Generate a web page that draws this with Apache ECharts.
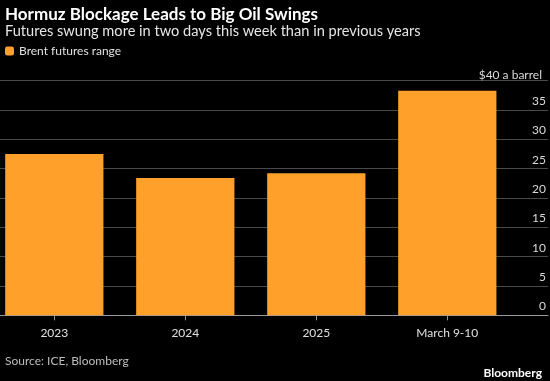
<!DOCTYPE html>
<html><head><meta charset="utf-8">
<script src="https://cdn.jsdelivr.net/npm/echarts@6/dist/echarts.min.js"></script>
<style>html,body{margin:0;padding:0;background:#000}#c{width:550px;height:381px}</style>
</head><body><div id="c"></div>
<script>
const categories = ['2023', '2024', '2025', 'March 9-10'];
const brentRange = [27.5, 23.4, 24.2, 38.3];
const yTicks = [0, 5, 10, 15, 20, 25, 30, 35];

const FONT = 'Lato, "Noto Sans", sans-serif';
const chart = echarts.init(document.getElementById('c'));
chart.setOption({
  backgroundColor: '#000',
  animation: false,
  title: [
    {text: 'Hormuz Blockage Leads to Big Oil Swings', left: 0, top: 1,
     textStyle: {color: '#fff', fontSize: 17, fontWeight: 'bold', fontFamily: FONT}},
    {text: 'Futures swung more in two days this week than in previous years', left: 0, top: 19,
     textStyle: {color: '#e6e6e6', fontSize: 14.6, fontWeight: 'normal', fontFamily: FONT}},
    {text: 'Source: ICE, Bloomberg', left: 0, top: 350,
     textStyle: {color: '#bdbdbd', fontSize: 12, fontWeight: 'normal', fontFamily: FONT}},
    {text: 'Bloomberg', right: 3, top: 362,
     textStyle: {color: '#fff', fontSize: 12, fontWeight: 'bold', fontFamily: FONT}},
    {text: '$40 a barrel', right: 3, top: 64,
     textStyle: {color: '#d9d9d9', fontSize: 12, fontWeight: 'normal', fontFamily: FONT}}
  ],
  legend: {
    left: 0, top: 40, itemWidth: 9, itemHeight: 9, itemGap: 6,
    icon: 'roundRect',
    textStyle: {color: '#e0e0e0', fontSize: 12, fontFamily: FONT},
    data: ['Brent futures range']
  },
  grid: [
    {left: -11.2, right: 37.2, top: 80.7, bottom: 65.7, containLabel: false, outerBoundsMode: 'none'},
    {left: 0, right: 2, top: 80.7, bottom: 65.7, containLabel: false, outerBoundsMode: 'none'}
  ],
  xAxis: [
    {type: 'category', gridIndex: 0, data: categories,
     axisLine: {show: false},
     axisTick: {show: true, alignWithLabel: true, length: 5, lineStyle: {color: '#999'}},
     axisLabel: {color: '#e0e0e0', fontSize: 12, fontFamily: FONT, margin: 12}},
    {type: 'category', gridIndex: 1, data: [''], show: true,
     axisLine: {show: true, lineStyle: {color: '#9a9a9a', width: 1}},
     axisTick: {show: false}, axisLabel: {show: false}}
  ],
  yAxis: [
    {type: 'value', gridIndex: 0, min: 0, max: 40, interval: 5, show: false},
    {type: 'value', gridIndex: 1, min: 0, max: 40, interval: 5, position: 'right',
     axisLine: {show: false}, axisTick: {show: false},
     splitLine: {lineStyle: {color: '#4a4a4a', width: 1}},
     axisLabel: {inside: true, margin: 2, color: '#d9d9d9', fontSize: 12, fontFamily: FONT,
       verticalAlign: 'bottom', padding: [0, 0, 3, 0],
       formatter: v => (yTicks.indexOf(v) >= 0 ? String(v) : '')}}
  ],
  series: [{
    name: 'Brent futures range', type: 'bar', xAxisIndex: 0, yAxisIndex: 0,
    data: brentRange, barCategoryGap: '25%',
    itemStyle: {color: '#FFA02B'}
  }]
});
</script></body></html>
